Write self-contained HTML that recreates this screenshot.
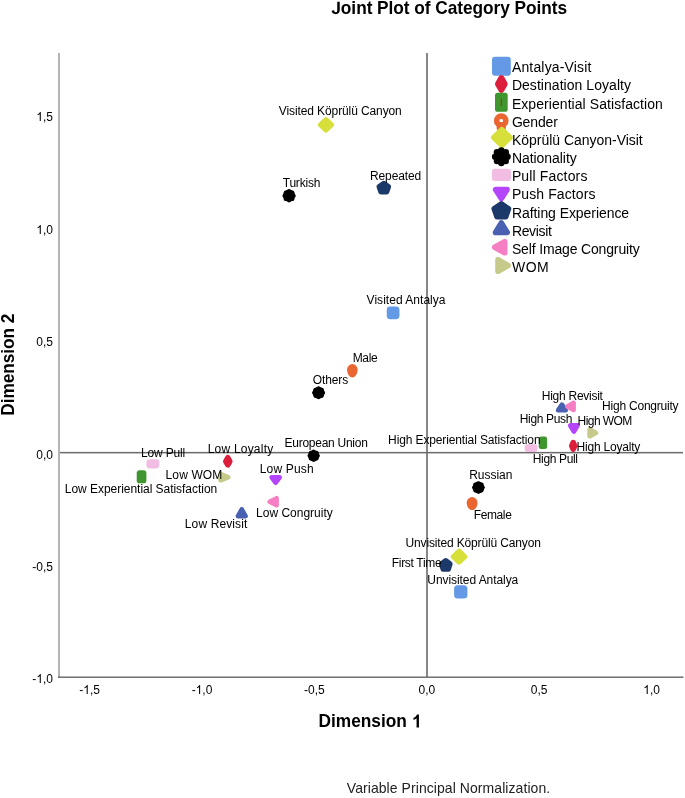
<!DOCTYPE html>
<html><head><meta charset="utf-8"><title>Joint Plot of Category Points</title>
<style>html,body{margin:0;padding:0;background:#fff;}body{width:685px;height:798px;position:relative;overflow:hidden;font-family:"Liberation Sans", sans-serif;}</style>
</head><body>
<svg width="685" height="798" viewBox="0 0 685 798" font-family='"Liberation Sans", sans-serif' style="position:absolute;left:0;top:0;will-change:transform;filter:blur(0.35px)">
<rect width="685" height="798" fill="#ffffff"/>
<text transform="translate(331.30,14.00) scale(1,1.035)" x="0" y="0" font-weight="bold" font-size="17.3" fill="#000" textLength="235.86" lengthAdjust="spacing"> oint Plot of Category Points</text><path transform="translate(331.30,14) scale(0.008447,-0.008743)" d="M524,-20 Q305,-20 187.5,75 Q70,170 31,382 L324,425 Q342,316 391,263.5 Q440,211 526,211 Q614,211 659.5,270 Q705,329 705,439 L705,1409 L999,1409 L999,446 Q999,226 874,103 Q749,-20 524,-20 Z" fill="#000"/>
<g transform="translate(0,727.5) scale(1,1.085) translate(0,-727.5)"><text x="318.47" y="727.50" font-weight="bold" font-size="17.3" fill="#000">Dimension  </text><path transform="translate(411.71,727.50) scale(0.008447,-0.008447)" d="M856,0 L575,0 L575,1014 Q421,876 212,810 L212,1054 Q322,1089 451,1185 Q580,1281 628,1409 L856,1409 Z" fill="#000"/></g>
<text transform="translate(14.1,415.75) rotate(-90) scale(1,1.085)" x="0" y="0" font-weight="bold" font-size="17.3" fill="#000" textLength="102.12" lengthAdjust="spacing">Dimension 2</text>
<text transform="translate(346.80,793.00) scale(1,1.07)" x="0" y="0" font-size="14" fill="#222" textLength="203.38" lengthAdjust="spacing">Variable Principal Normalization.</text>
<text x="79.26" y="694.00" font-size="12" fill="#000">- ,5</text><path transform="translate(83.26,694.00) scale(0.005859,-0.006384)" d="M763,0 L583,0 L583,1100 Q518,1040 412,980 Q306,920 222,890 L222,1058 Q373,1126 486,1223 Q599,1320 646,1409 L763,1409 Z" fill="#000"/>
<text x="191.66" y="694.00" font-size="12" fill="#000">- ,0</text><path transform="translate(195.66,694.00) scale(0.005859,-0.006384)" d="M763,0 L583,0 L583,1100 Q518,1040 412,980 Q306,920 222,890 L222,1058 Q373,1126 486,1223 Q599,1320 646,1409 L763,1409 Z" fill="#000"/>
<text x="304.06" y="694.00" font-size="12" fill="#000">-0,5</text>
<text x="418.46" y="694.00" font-size="12" fill="#000">0,0</text>
<text x="530.86" y="694.00" font-size="12" fill="#000">0,5</text>
<text x="643.26" y="694.00" font-size="12" fill="#000"> ,0</text><path transform="translate(643.26,694.00) scale(0.005859,-0.006384)" d="M763,0 L583,0 L583,1100 Q518,1040 412,980 Q306,920 222,890 L222,1058 Q373,1126 486,1223 Q599,1320 646,1409 L763,1409 Z" fill="#000"/>
<text x="36.32" y="121.00" font-size="12" fill="#000"> ,5</text><path transform="translate(36.32,121.00) scale(0.005859,-0.006384)" d="M763,0 L583,0 L583,1100 Q518,1040 412,980 Q306,920 222,890 L222,1058 Q373,1126 486,1223 Q599,1320 646,1409 L763,1409 Z" fill="#000"/>
<text x="36.32" y="234.00" font-size="12" fill="#000"> ,0</text><path transform="translate(36.32,234.00) scale(0.005859,-0.006384)" d="M763,0 L583,0 L583,1100 Q518,1040 412,980 Q306,920 222,890 L222,1058 Q373,1126 486,1223 Q599,1320 646,1409 L763,1409 Z" fill="#000"/>
<text x="36.32" y="346.00" font-size="12" fill="#000">0,5</text>
<text x="36.32" y="459.00" font-size="12" fill="#000">0,0</text>
<text x="32.32" y="571.00" font-size="12" fill="#000">-0,5</text>
<text x="32.32" y="683.00" font-size="12" fill="#000">- ,0</text><path transform="translate(36.32,683.00) scale(0.005859,-0.006384)" d="M763,0 L583,0 L583,1100 Q518,1040 412,980 Q306,920 222,890 L222,1058 Q373,1126 486,1223 Q599,1320 646,1409 L763,1409 Z" fill="#000"/>
<rect x="58" y="53" width="2" height="625" fill="#b4b4b4"/>
<rect x="58" y="676.5" width="625.5" height="1.4" fill="#666"/>
<rect x="426.2" y="53" width="1.6" height="624" fill="#6a6a6a"/>
<rect x="60" y="451.9" width="623" height="1.5" fill="#6a6a6a"/>
<rect x="386.75" y="306.45" width="12.70" height="12.70" rx="3.43" fill="#6399e5"/>
<rect x="454.10" y="585.20" width="13.30" height="13.30" rx="3.59" fill="#6399e5"/>
<polygon points="227.80,457.80 229.80,461.35 227.80,464.90 225.80,461.35" fill="#dc1e3c" stroke="#dc1e3c" stroke-width="5.60" stroke-linejoin="round"/>
<polygon points="573.20,442.60 574.60,445.90 573.20,449.20 571.80,445.90" fill="#dc1e3c" stroke="#dc1e3c" stroke-width="5.60" stroke-linejoin="round"/>
<rect x="136.70" y="470.20" width="9.70" height="13.10" rx="2.91" fill="#3f962f"/>
<rect x="538.70" y="436.60" width="8.40" height="12.30" rx="2.52" fill="#3f962f"/>
<path d="M347.10,369.35 A5.25,5.25 0 0 1 357.60,369.35 C357.60,373.83 355.50,377.50 352.35,377.50 C349.20,377.50 347.10,373.83 347.10,369.35 Z" fill="#ea6630"/>
<path d="M466.70,502.50 A5.40,5.40 0 0 1 477.50,502.50 C477.50,506.68 475.34,510.10 472.10,510.10 C468.86,510.10 466.70,506.68 466.70,502.50 Z" fill="#ea6630"/>
<polygon points="325.95,119.50 331.70,124.85 325.95,130.20 320.20,124.85" fill="#d7e03a" stroke="#d7e03a" stroke-width="4.80" stroke-linejoin="round"/>
<polygon points="459.05,551.00 465.00,556.65 459.05,562.30 453.10,556.65" fill="#d7e03a" stroke="#d7e03a" stroke-width="4.80" stroke-linejoin="round"/>
<circle cx="289.05" cy="195.75" r="6.18" fill="#000"/><circle cx="293.84" cy="195.75" r="1.86" fill="#000"/><circle cx="292.44" cy="199.14" r="1.86" fill="#000"/><circle cx="289.05" cy="200.54" r="1.86" fill="#000"/><circle cx="285.66" cy="199.14" r="1.86" fill="#000"/><circle cx="284.26" cy="195.75" r="1.86" fill="#000"/><circle cx="285.66" cy="192.36" r="1.86" fill="#000"/><circle cx="289.05" cy="190.96" r="1.86" fill="#000"/><circle cx="292.44" cy="192.36" r="1.86" fill="#000"/>
<circle cx="318.60" cy="392.80" r="6.04" fill="#000"/><circle cx="323.28" cy="392.80" r="1.82" fill="#000"/><circle cx="321.91" cy="396.11" r="1.82" fill="#000"/><circle cx="318.60" cy="397.48" r="1.82" fill="#000"/><circle cx="315.29" cy="396.11" r="1.82" fill="#000"/><circle cx="313.92" cy="392.80" r="1.82" fill="#000"/><circle cx="315.29" cy="389.49" r="1.82" fill="#000"/><circle cx="318.60" cy="388.12" r="1.82" fill="#000"/><circle cx="321.91" cy="389.49" r="1.82" fill="#000"/>
<circle cx="313.65" cy="455.70" r="5.72" fill="#000"/><circle cx="318.08" cy="455.70" r="1.72" fill="#000"/><circle cx="316.78" cy="458.83" r="1.72" fill="#000"/><circle cx="313.65" cy="460.13" r="1.72" fill="#000"/><circle cx="310.52" cy="458.83" r="1.72" fill="#000"/><circle cx="309.22" cy="455.70" r="1.72" fill="#000"/><circle cx="310.52" cy="452.57" r="1.72" fill="#000"/><circle cx="313.65" cy="451.27" r="1.72" fill="#000"/><circle cx="316.78" cy="452.57" r="1.72" fill="#000"/>
<circle cx="478.45" cy="487.50" r="5.91" fill="#000"/><circle cx="483.02" cy="487.50" r="1.78" fill="#000"/><circle cx="481.68" cy="490.73" r="1.78" fill="#000"/><circle cx="478.45" cy="492.07" r="1.78" fill="#000"/><circle cx="475.22" cy="490.73" r="1.78" fill="#000"/><circle cx="473.88" cy="487.50" r="1.78" fill="#000"/><circle cx="475.22" cy="484.27" r="1.78" fill="#000"/><circle cx="478.45" cy="482.93" r="1.78" fill="#000"/><circle cx="481.68" cy="484.27" r="1.78" fill="#000"/>
<rect x="146.40" y="459.30" width="12.90" height="9.20" rx="3.13" fill="#f2bde3"/>
<rect x="524.70" y="444.20" width="12.80" height="7.80" rx="2.65" fill="#f2bde3"/>
<polygon points="271.70,477.30 279.60,477.30 275.65,482.60" fill="#b445fb" stroke="#b445fb" stroke-width="4.80" stroke-linejoin="round"/>
<polygon points="570.30,425.50 577.50,425.50 573.90,431.40" fill="#b445fb" stroke="#b445fb" stroke-width="4.80" stroke-linejoin="round"/>
<polygon points="383.80,183.50 388.50,186.75 386.71,192.00 380.89,192.00 379.10,186.75" fill="#1b3a69" stroke="#1b3a69" stroke-width="5.20" stroke-linejoin="round"/>
<polygon points="445.75,560.60 450.00,563.89 448.38,569.20 443.12,569.20 441.50,563.89" fill="#1b3a69" stroke="#1b3a69" stroke-width="5.20" stroke-linejoin="round"/>
<polygon points="241.75,509.30 245.60,516.10 237.90,516.10" fill="#4a60b0" stroke="#4a60b0" stroke-width="4.60" stroke-linejoin="round"/>
<polygon points="561.90,404.60 565.70,410.30 558.10,410.30" fill="#4a60b0" stroke="#4a60b0" stroke-width="4.60" stroke-linejoin="round"/>
<polygon points="269.60,501.75 276.60,498.20 276.60,505.30" fill="#f57fc2" stroke="#f57fc2" stroke-width="4.60" stroke-linejoin="round"/>
<polygon points="567.30,406.40 573.60,402.80 573.60,410.00" fill="#f57fc2" stroke="#f57fc2" stroke-width="4.60" stroke-linejoin="round"/>
<polygon points="228.00,477.20 220.70,474.30 220.70,480.10" fill="#c5c989" stroke="#c5c989" stroke-width="5.00" stroke-linejoin="round"/>
<polygon points="595.70,432.90 589.80,429.70 589.80,436.10" fill="#c5c989" stroke="#c5c989" stroke-width="5.00" stroke-linejoin="round"/>
<text x="366.60" y="304.00" font-size="12" fill="#000" textLength="78.90" lengthAdjust="spacing">Visited Antalya</text>
<text x="427.30" y="584.00" font-size="12" fill="#000" textLength="90.96" lengthAdjust="spacing">Unvisited Antalya</text>
<text x="207.70" y="453.00" font-size="12" fill="#000" textLength="65.48" lengthAdjust="spacing">Low Loyalty</text>
<text x="576.60" y="451.00" font-size="12" fill="#000" textLength="63.75" lengthAdjust="spacing">High Loyalty</text>
<text x="64.80" y="493.00" font-size="12" fill="#000" textLength="152.42" lengthAdjust="spacing">Low Experiential Satisfaction</text>
<text x="388.10" y="444.00" font-size="12" fill="#000" textLength="152.49" lengthAdjust="spacing">High Experiential Satisfaction</text>
<text x="352.70" y="362.00" font-size="12" fill="#000" textLength="25.02" lengthAdjust="spacing">Male</text>
<text x="473.80" y="519.00" font-size="12" fill="#000" textLength="38.02" lengthAdjust="spacing">Female</text>
<text x="278.80" y="115.00" font-size="12" fill="#000" textLength="123.00" lengthAdjust="spacing">Visited Köprülü Canyon</text>
<text x="405.50" y="547.00" font-size="12" fill="#000" textLength="135.35" lengthAdjust="spacing">Unvisited Köprülü Canyon</text>
<text x="282.70" y="187.00" font-size="12" fill="#000" textLength="37.71" lengthAdjust="spacing">Turkish</text>
<text x="312.80" y="384.00" font-size="12" fill="#000" textLength="35.42" lengthAdjust="spacing">Others</text>
<text x="284.60" y="447.00" font-size="12" fill="#000" textLength="83.23" lengthAdjust="spacing">European Union</text>
<text x="469.20" y="479.00" font-size="12" fill="#000" textLength="43.16" lengthAdjust="spacing">Russian</text>
<text x="140.90" y="457.00" font-size="12" fill="#000" textLength="44.36" lengthAdjust="spacing">Low Pull</text>
<text x="532.80" y="463.00" font-size="12" fill="#000" textLength="45.13" lengthAdjust="spacing">High Pull</text>
<text x="259.70" y="473.00" font-size="12" fill="#000" textLength="54.00" lengthAdjust="spacing">Low Push</text>
<text x="519.80" y="423.00" font-size="12" fill="#000" textLength="52.58" lengthAdjust="spacing">High Push</text>
<text x="370.00" y="180.00" font-size="12" fill="#000" textLength="51.25" lengthAdjust="spacing">Repeated</text>
<text x="391.80" y="567.00" font-size="12" fill="#000" textLength="49.87" lengthAdjust="spacing">First Time</text>
<text x="184.80" y="528.00" font-size="12" fill="#000" textLength="62.56" lengthAdjust="spacing">Low Revisit</text>
<text x="541.80" y="400.00" font-size="12" fill="#000" textLength="61.13" lengthAdjust="spacing">High Revisit</text>
<text x="256.10" y="517.00" font-size="12" fill="#000" textLength="76.62" lengthAdjust="spacing">Low Congruity</text>
<text x="602.10" y="410.00" font-size="12" fill="#000" textLength="76.48" lengthAdjust="spacing">High Congruity</text>
<text x="165.50" y="479.00" font-size="12" fill="#000" textLength="56.82" lengthAdjust="spacing">Low WOM</text>
<text x="577.60" y="425.00" font-size="12" fill="#000" textLength="54.77" lengthAdjust="spacing">High WOM</text>
<rect x="492.00" y="56.75" width="18.80" height="19.10" rx="3.01" fill="#6399e5"/>
<text transform="translate(511.90,72.00) scale(1,1.06)" x="0" y="0" font-size="14" fill="#000" textLength="79.56" lengthAdjust="spacing">Antalya-Visit</text>
<polygon points="501.35,78.10 504.70,83.95 501.35,89.80 498.00,83.95" fill="#dc1e3c" stroke="#dc1e3c" stroke-width="6.00" stroke-linejoin="round"/>
<text transform="translate(511.90,90.00) scale(1,1.06)" x="0" y="0" font-size="14" fill="#000" textLength="119.10" lengthAdjust="spacing">Destination Loyalty</text>
<rect x="495.00" y="92.85" width="12.70" height="18.85" rx="2.54" fill="#3f962f"/><rect x="500.80" y="98.48" width="1.1" height="7.6" rx="0.5" fill="#b0222a"/>
<text transform="translate(511.90,109.00) scale(1,1.06)" x="0" y="0" font-size="14" fill="#000" textLength="150.92" lengthAdjust="spacing">Experiential Satisfaction</text>
<circle cx="501.25" cy="120.65" r="7.35" fill="#ea6630"/><rect x="496.62" y="120.65" width="9.26" height="10.85" rx="3.70" fill="#ea6630"/><rect x="499.55" y="119.25" width="3.4" height="2.8" rx="0.6" fill="#fff"/>
<text transform="translate(511.90,127.00) scale(1,1.06)" x="0" y="0" font-size="14" fill="#000" textLength="45.90" lengthAdjust="spacing">Gender</text>
<polygon points="501.85,129.40 510.20,137.50 501.85,145.60 493.50,137.50" fill="#d7e03a" stroke="#d7e03a" stroke-width="5.20" stroke-linejoin="round"/>
<text transform="translate(511.90,145.00) scale(1,1.06)" x="0" y="0" font-size="14" fill="#000" textLength="130.87" lengthAdjust="spacing">Köprülü Canyon-Visit</text>
<circle cx="501.35" cy="156.70" r="7.56" fill="#000"/><circle cx="507.59" cy="156.70" r="3.21" fill="#000"/><circle cx="505.76" cy="161.11" r="3.21" fill="#000"/><circle cx="501.35" cy="162.94" r="3.21" fill="#000"/><circle cx="496.94" cy="161.11" r="3.21" fill="#000"/><circle cx="495.11" cy="156.70" r="3.21" fill="#000"/><circle cx="496.94" cy="152.29" r="3.21" fill="#000"/><circle cx="501.35" cy="150.46" r="3.21" fill="#000"/><circle cx="505.76" cy="152.29" r="3.21" fill="#000"/>
<text transform="translate(511.90,163.00) scale(1,1.06)" x="0" y="0" font-size="14" fill="#000" textLength="64.88" lengthAdjust="spacing">Nationality</text>
<rect x="491.90" y="168.70" width="19.10" height="12.30" rx="2.95" fill="#f2bde3"/>
<text transform="translate(511.90,181.00) scale(1,1.06)" x="0" y="0" font-size="14" fill="#000" textLength="75.52" lengthAdjust="spacing">Pull Factors</text>
<polygon points="495.60,189.50 507.10,189.50 501.35,198.60" fill="#b445fb" stroke="#b445fb" stroke-width="5.60" stroke-linejoin="round"/>
<text transform="translate(511.90,199.00) scale(1,1.06)" x="0" y="0" font-size="14" fill="#000" textLength="83.58" lengthAdjust="spacing">Push Factors</text>
<polygon points="501.35,203.70 508.70,208.70 505.89,216.80 496.81,216.80 494.00,208.70" fill="#1b3a69" stroke="#1b3a69" stroke-width="5.20" stroke-linejoin="round"/>
<text transform="translate(511.90,218.00) scale(1,1.06)" x="0" y="0" font-size="14" fill="#000" textLength="117.20" lengthAdjust="spacing">Rafting Experience</text>
<polygon points="501.35,222.90 507.20,232.40 495.50,232.40" fill="#4a60b0" stroke="#4a60b0" stroke-width="5.60" stroke-linejoin="round"/>
<text transform="translate(511.90,236.00) scale(1,1.06)" x="0" y="0" font-size="14" fill="#000" textLength="39.92" lengthAdjust="spacing">Revisit</text>
<polygon points="494.70,247.20 504.70,241.70 504.70,252.70" fill="#f57fc2" stroke="#f57fc2" stroke-width="5.60" stroke-linejoin="round"/>
<text transform="translate(511.90,254.00) scale(1,1.06)" x="0" y="0" font-size="14" fill="#000" textLength="127.83" lengthAdjust="spacing">Self Image Congruity</text>
<polygon points="508.00,265.45 498.00,259.70 498.00,271.20" fill="#c5c989" stroke="#c5c989" stroke-width="5.60" stroke-linejoin="round"/>
<text transform="translate(511.90,272.00) scale(1,1.06)" x="0" y="0" font-size="14" fill="#000" textLength="36.87" lengthAdjust="spacing">WOM</text>
</svg>
</body></html>
